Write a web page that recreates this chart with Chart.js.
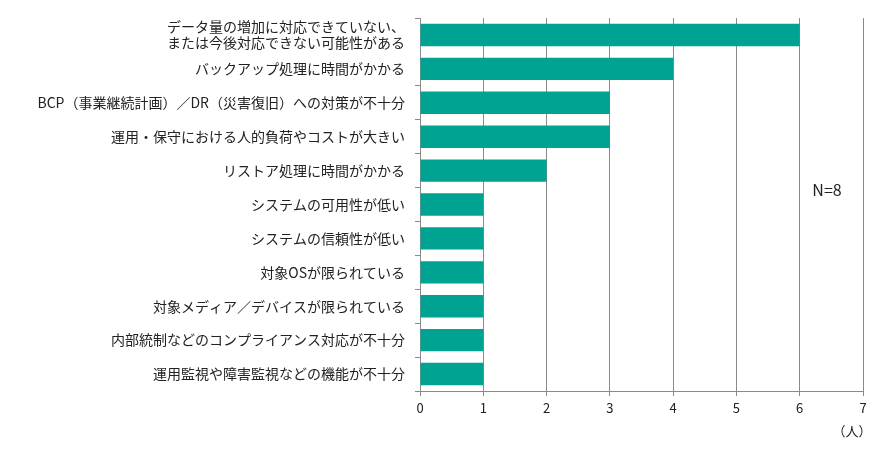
<!DOCTYPE html>
<html>
<head>
<meta charset="utf-8">
<script src="https://cdn.jsdelivr.net/npm/chart.js@4/dist/chart.umd.min.js"></script>
<style>
  body { margin: 0; background: #fff; }
  #wrap { position: relative; width: 879px; height: 462px; }
</style>
</head>
<body>
<div id="wrap"><canvas id="issueChart" width="879" height="462"></canvas></div>
<script>
// Chart data
const categories = [
    ['データ量の増加に対応できていない、', 'または今後対応できない可能性がある'],
    'バックアップ処理に時間がかかる',
    'BCP（事業継続計画）／DR（災害復旧）への対策が不十分',
    '運用・保守における人的負荷やコストが大きい',
    'リストア処理に時間がかかる',
    'システムの可用性が低い',
    'システムの信頼性が低い',
    '対象OSが限られている',
    '対象メディア／デバイスが限られている',
    '内部統制などのコンプライアンス対応が不十分',
    '運用監視や障害監視などの機能が不十分'
];
const counts = [6, 4, 3, 3, 2, 1, 1, 1, 1, 1, 1];
const xTicks = [0, 1, 2, 3, 4, 5, 6, 7];
const sampleNote = 'N=8';
const unitLabel = '（人）';

const fontFamily = '"Noto Sans CJK JP", "Noto Sans", sans-serif';

// Extra texts: sample size and unit
const notesPlugin = {
    id: 'notes',
    afterDraw(chart) {
        const ctx = chart.ctx;
        ctx.save();
        ctx.fillStyle = '#222';
        ctx.textBaseline = 'middle';
        ctx.textAlign = 'center';
        ctx.font = '16px ' + fontFamily;
        ctx.fillText(sampleNote, 827, 190);
        ctx.font = '13px ' + fontFamily;
        ctx.fillText(unitLabel, 852, 431);
        ctx.restore();
    }
};

const ctx = document.getElementById('issueChart').getContext('2d');
const myChart = new Chart(ctx, {
    type: 'bar',
    data: {
        labels: categories,
        datasets: [{
            data: counts,
            backgroundColor: '#00a392',
            borderWidth: 0,
            barPercentage: 0.66,
            categoryPercentage: 1.0
        }]
    },
    options: {
        indexAxis: 'y',
        responsive: false,
        animation: false,
        layout: { padding: { top: 11, right: 16, left: 0, bottom: 0 } },
        plugins: {
            legend: { display: false },
            tooltip: { enabled: false }
        },
        scales: {
            x: {
                min: 0,
                max: 7,
                afterBuildTicks: scale => { scale.ticks = xTicks.map(v => ({ value: v })); },
                afterFit: scale => { scale.height = 462 - 391; },
                grid: { color: '#8a8a8a', tickLength: 5, lineWidth: 1 },
                border: { color: '#8a8a8a' },
                ticks: { color: '#222', font: { size: 13, family: fontFamily }, padding: 4 }
            },
            y: {
                afterFit: scale => { scale.width = 420; },
                grid: {
                    display: true,
                    drawOnChartArea: false,
                    // the tick under the two-line label is hidden in the original
                    color: c => (c.index === 1 ? 'rgba(0,0,0,0)' : '#8a8a8a'),
                    tickLength: 5,
                    offset: true
                },
                border: { color: '#8a8a8a' },
                ticks: { color: '#222', autoSkip: false, font: { size: 14, family: fontFamily, lineHeight: 1.15 }, padding: 10 }
            }
        }
    },
    plugins: [notesPlugin]
});
</script>
</body>
</html>
